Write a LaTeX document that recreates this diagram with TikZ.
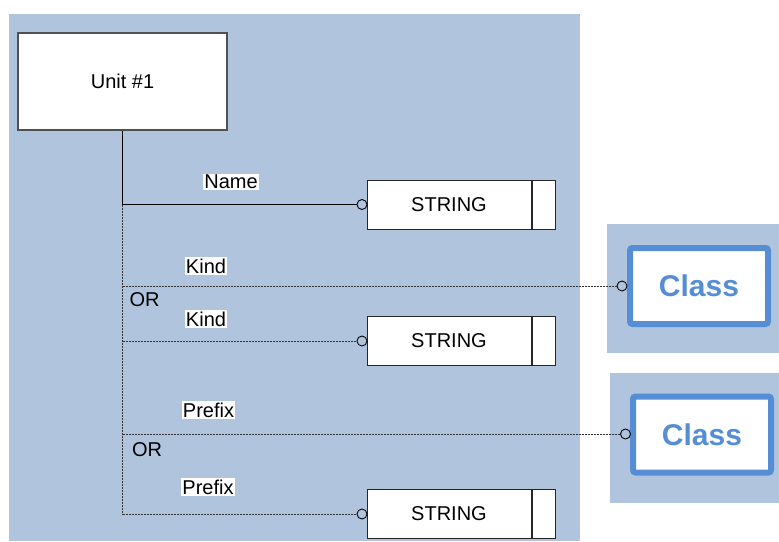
\documentclass[tikz,border=0pt]{standalone}
\usepackage{fontspec}
\setmainfont{Liberation Sans}
\definecolor{panel}{RGB}{176,196,222}
\definecolor{classblue}{RGB}{85,142,213}
\definecolor{boxgray}{RGB}{80,80,80}
\begin{document}
\begin{tikzpicture}[x=1pt,y=-1pt,
  txt/.style={font=\fontsize{20}{24}\selectfont},
  unitbox/.style={draw=boxgray,line width=1.2pt,fill=white,minimum width=209pt,minimum height=97pt,txt},
  strbox/.style={draw=black!85,line width=1pt,fill=white,minimum width=164pt,minimum height=49pt,inner sep=0pt,txt},
  cellbox/.style={draw=black!85,line width=1pt,fill=white,minimum width=23pt,minimum height=49pt,inner sep=0pt,anchor=west},
  classbox/.style={draw=classblue,line width=6pt,rounded corners=2.5pt,fill=white,minimum width=138pt,minimum height=76pt,
    text=classblue,font=\fontsize{30}{36}\selectfont\bfseries},
  lbl/.style={fill=white,inner sep=1.2pt,txt},
  ortxt/.style={inner sep=0pt,txt},
  endc/.style={circle,draw=black,line width=0.9pt,fill=panel,minimum size=10pt,inner sep=0pt},
  solidcon/.style={draw=black,line width=1pt},
  dashcon/.style={draw=black!80,line width=1pt,dash pattern=on 2pt off 1pt},
]
\useasboundingbox (0,0) rectangle (779,541);
% panels
\fill[panel] (9,14) rectangle (580,541);
\fill[panel] (607,224) rectangle (779,353);
\fill[panel] (610,373) rectangle (779,503);

% nodes
\node[unitbox] (unit) at (122.5,81.5) {Unit \#1};
\node[strbox] (s1) at (449,204.5) {STRING};
\node[cellbox] (s1c) at (s1.east) {};
\node[strbox] (s2) at (449,340.5) {STRING};
\node[cellbox] (s2c) at (s2.east) {};
\node[strbox] (s3) at (449,513.5) {STRING};
\node[cellbox] (s3c) at (s3.east) {};
\node[classbox] (k1) at (699,286) {Class};
\node[classbox] (k2) at (702,434.5) {Class};

% end circles
\node[endc] (e1) at (362,204.5) {};
\node[endc] (e2) at (622,286) {};
\node[endc] (e3) at (362,341) {};
\node[endc] (e4) at (625.5,434) {};
\node[endc] (e5) at (362,514) {};

% junctions
\coordinate (j1) at (122.5,204.5);
\coordinate (j2) at (122.5,286);
\coordinate (j3) at (122.5,341);
\coordinate (j4) at (122.5,434);
\coordinate (j5) at (122.5,514);

% connectors
\draw[solidcon] (unit.south) -- (j1);
\draw[dashcon] (j1) -- (j5);
\draw[solidcon] (j1) -- (e1.west);
\draw[dashcon] (j2) -- (e2.west);
\draw[dashcon] (j3) -- (e3.west);
\draw[dashcon] (j4) -- (e4.west);
\draw[dashcon] (j5) -- (e5.west);

% labels
\node[lbl] (lname) at (231,182) {Name};
\node[lbl] (lkind1) at (206,266) {Kind};
\node[ortxt] (or1) at (144.5,299.5) {OR};
\node[lbl] (lkind2) at (206,319) {Kind};
\node[lbl] (lpre1) at (208.5,410) {Prefix};
\node[ortxt] (or2) at (147,450) {OR};
\node[lbl] (lpre2) at (208,487) {Prefix};
\end{tikzpicture}
\end{document}
